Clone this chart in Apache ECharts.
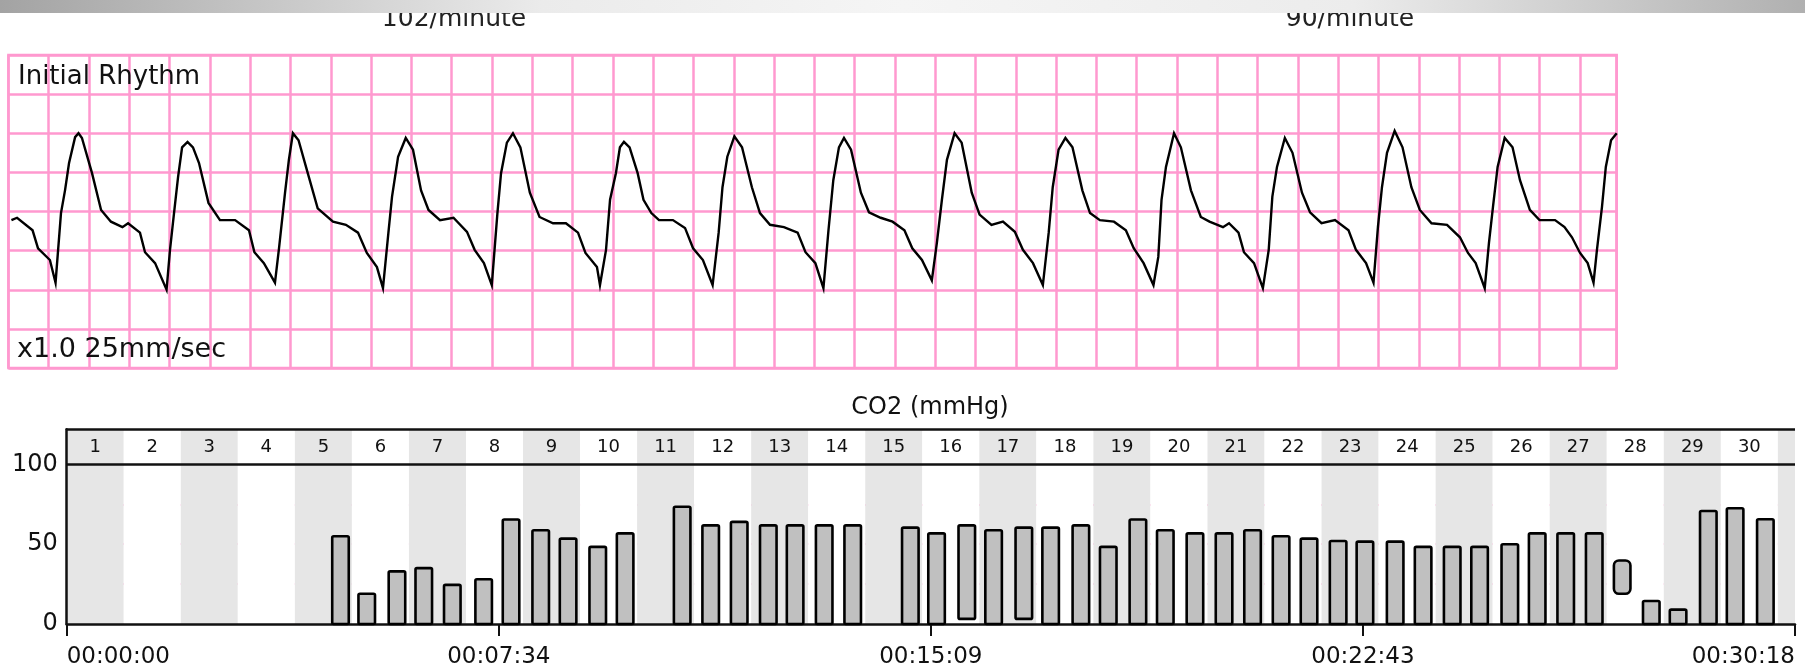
<!DOCTYPE html>
<html><head><meta charset="utf-8">
<script src="https://cdn.jsdelivr.net/npm/echarts@6/dist/echarts.min.js"></script>
<style>html,body{margin:0;padding:0;background:#fff}#c{width:1805px;height:672px}</style>
</head><body><div id="c"></div>
<script>
// ECG trace: time in seconds, amplitude in mV (25 mm/s, 10 mm/mV paper)
const ecgTime = [0.015,0.043,0.120,0.147,0.206,0.234,0.261,0.281,0.301,0.331,0.348,0.365,0.415,0.460,0.509,0.566,0.594,0.653,0.678,0.728,0.785,0.802,0.822,0.842,0.862,0.889,0.916,0.946,0.993,1.050,1.125,1.194,1.221,1.268,1.323,1.343,1.373,1.392,1.412,1.440,1.477,1.535,1.611,1.675,1.735,1.779,1.829,1.859,1.886,1.904,1.934,1.972,2.008,2.048,2.085,2.142,2.209,2.276,2.314,2.360,2.399,2.427,2.445,2.474,2.504,2.541,2.588,2.636,2.703,2.767,2.827,2.864,2.921,
2.936,2.966,2.986,3.015,3.035,3.055,3.083,3.123,3.152,3.191,3.229,3.298,3.358,3.398,3.447,3.495,3.525,3.544,3.568,3.603,3.641,3.690,3.730,3.780,3.849,3.917,3.956,4.005,4.045,4.070,4.094,4.122,4.147,4.182,4.231,4.271,4.329,4.388,4.447,4.486,4.534,4.583,4.608,4.633,4.658,4.696,4.731,4.781,4.820,4.879,4.936,4.995,5.035,5.085,5.134,5.163,5.183,5.212,5.246,5.281,5.330,5.368,5.417,5.487,5.546,5.585,5.634,5.683,5.707,5.723,5.745,5.785,5.819,5.869,5.918,
5.961,6.028,6.058,6.105,6.132,6.182,6.226,6.255,6.273,6.296,6.335,6.373,6.420,6.460,6.517,6.584,6.651,6.688,6.738,6.775,6.797,6.817,6.842,6.880,6.919,6.963,7.005,7.063,7.140,7.204,7.244,7.282,7.327,7.348,7.368,7.391,7.426,7.465,7.502,7.551,7.599,7.676,7.723,7.760,7.800,7.838,7.867,7.884,7.909,7.928,7.954,7.982];
const ecgMv = [-0.11,-0.08,-0.24,-0.47,-0.62,-0.91,-0.02,0.27,0.62,0.95,1.00,0.94,0.49,0.02,-0.13,-0.20,-0.15,-0.27,-0.52,-0.66,-1.00,-0.49,-0.02,0.44,0.82,0.89,0.82,0.62,0.11,-0.11,-0.11,-0.24,-0.52,-0.66,-0.91,-0.47,0.24,0.66,1.00,0.91,0.57,0.04,-0.13,-0.17,-0.27,-0.53,-0.71,-0.98,-0.27,0.19,0.70,0.94,0.79,0.27,0.02,-0.11,-0.08,-0.26,-0.49,-0.66,-0.94,-0.02,0.49,0.88,1.00,0.82,0.24,-0.07,-0.15,-0.15,-0.27,-0.53,-0.71,
-0.94,-0.49,0.15,0.49,0.82,0.89,0.82,0.49,0.15,-0.02,-0.11,-0.11,-0.21,-0.47,-0.62,-0.94,-0.27,0.31,0.70,0.96,0.82,0.31,-0.02,-0.17,-0.20,-0.27,-0.52,-0.66,-0.98,-0.24,0.40,0.82,0.94,0.79,0.24,-0.01,-0.08,-0.13,-0.24,-0.47,-0.62,-0.88,-0.40,0.15,0.66,1.00,0.88,0.24,-0.04,-0.17,-0.13,-0.26,-0.49,-0.66,-0.94,-0.27,0.31,0.79,0.94,0.82,0.27,-0.02,-0.11,-0.13,-0.24,-0.47,-0.66,-0.94,-0.58,0.15,0.57,1.00,0.82,0.27,-0.07,
-0.13,-0.20,-0.15,-0.27,-0.52,-0.66,-0.98,-0.49,0.19,0.57,0.94,0.75,0.24,-0.01,-0.15,-0.11,-0.24,-0.49,-0.66,-0.91,-0.20,0.31,0.75,1.03,0.82,0.31,0.02,-0.15,-0.17,-0.33,-0.53,-0.66,-0.98,-0.40,0.06,0.57,0.94,0.82,0.40,0.02,-0.11,-0.11,-0.20,-0.33,-0.53,-0.66,-0.91,-0.49,0.06,0.57,0.91,1.00];
const ecgDuration = 7.982;

// CO2 bars: time in minutes, bar top and bottom in mmHg
const co2Minutes = [4.80,5.26,5.79,6.26,6.76,7.31,7.79,8.31,8.79,9.31,9.79,10.79,11.29,11.79,12.30,12.77,13.28,13.78,14.79,15.25,15.78,16.25,16.78,17.25,17.78,18.26,18.78,19.26,19.78,20.29,20.79,21.29,21.78,22.29,22.76,23.29,23.78,24.29,24.77,25.30,25.78,26.28,26.78,27.27,27.78,28.25,28.78,29.25,29.78];
const co2High = [55,19,33,35,24.5,28,65.5,58.7,53.5,48.3,56.8,73.5,61.8,64,61.8,61.8,61.8,61.8,60.4,56.8,61.8,58.7,60.4,60.4,61.8,48.3,65.5,58.7,56.8,56.8,58.7,55,53.5,52,51.6,51.6,48.3,48.3,48.3,50,56.8,56.8,56.8,39.8,14.4,9,70.8,72.5,65.6];
const co2Low = [0,0,0,0,0,0,0,0,0,0,0,0,0,0,0,0,0,0,0,0,3.2,0,3.2,0,0,0,0,0,0,0,0,0,0,0,0,0,0,0,0,0,0,0,0,19,0,0,0,0,0];
const minuteLabels = ['1','2','3','4','5','6','7','8','9','10','11','12','13','14','15','16','17','18','19','20','21','22','23','24','25','26','27','28','29','30'];
const timeLabels = ['00:00:00','00:07:34','00:15:09','00:22:43','00:30:18'];
const totalMinutes = 30.3;
const timeStep = 7.575;
const rateLabels = ['102/minute','90/minute'];

const FONT = '"DejaVu Sans", sans-serif';
const PINK = '#ff99cf';
const headerBottom = 100, headerTop = 122, headerMid = 111;
const barHalf = 0.145;

const chart = echarts.init(document.getElementById('c'));
chart.setOption({
  animation: false,
  backgroundColor: '#ffffff',
  grid: [
    {left: 8.4, right: 188.3, top: 55, bottom: 304, show: true, borderColor: PINK, borderWidth: 2.5, backgroundColor: 'transparent'},
    {left: 66.7, right: 10, top: 429.3, bottom: 48}
  ],
  xAxis: [
    {gridIndex: 0, type: 'value', min: 0, max: ecgDuration, interval: 0.2,
     axisLine: {show: false}, axisTick: {show: false}, axisLabel: {show: false},
     splitLine: {show: true, lineStyle: {color: PINK, width: 2.5}}},
    {gridIndex: 1, type: 'value', min: 0, max: totalMinutes, interval: timeStep, position: 'bottom',
     axisLine: {show: true, onZero: false, lineStyle: {color: '#111', width: 2.5}},
     axisTick: {show: true, length: 12, lineStyle: {color: '#111', width: 2}},
     axisLabel: {show: true, margin: 22, fontFamily: FONT, fontSize: 23, color: '#111',
       alignMinLabel: 'left', alignMaxLabel: 'right',
       formatter: v => timeLabels[Math.round(v / timeStep)] || ''},
     splitLine: {show: false}},
    {gridIndex: 1, type: 'value', min: 0, max: totalMinutes, interval: 1, position: 'top',
     axisLine: {show: false}, axisTick: {show: false}, axisLabel: {show: false},
     splitLine: {show: false},
     splitArea: {show: true, areaStyle: {color: ['#e6e6e6', '#ffffff']}}}
  ],
  yAxis: [
    {gridIndex: 0, type: 'value', min: -2, max: 2, interval: 0.5,
     axisLine: {show: false}, axisTick: {show: false}, axisLabel: {show: false},
     splitLine: {show: true, lineStyle: {color: PINK, width: 2.5}}},
    {gridIndex: 1, type: 'value', min: 0, max: headerTop, interval: 25,
     axisLine: {show: true, lineStyle: {color: '#111', width: 2.5}},
     axisTick: {show: false},
     axisLabel: {show: true, margin: 9, fontFamily: FONT, fontSize: 24, color: '#111', showMaxLabel: false,
       formatter: v => (v % 50 === 0 ? String(v) : '')},
     splitLine: {show: true, lineStyle: {color: '#ffa3d4', width: 2}}}
  ],
  series: [
    {type: 'line', xAxisIndex: 0, yAxisIndex: 0, showSymbol: false, symbol: 'none',
     data: ecgTime.map((t, i) => [t, ecgMv[i]]),
     lineStyle: {color: '#000', width: 2.4, join: 'miter'}, z: 5},
    {type: 'custom', xAxisIndex: 1, yAxisIndex: 1, z: 4,
     data: co2Minutes.map((t, i) => [t, co2Low[i], co2High[i]]),
     encode: {x: 0, y: [1, 2]},
     renderItem: (params, api) => {
       const t = api.value(0), lo = api.value(1), hi = api.value(2);
       const a = api.coord([t - barHalf, hi]);
       const b = api.coord([t + barHalf, lo]);
       return {type: 'rect',
         shape: {x: a[0], y: a[1], width: b[0] - a[0], height: b[1] - a[1], r: lo > 10 ? 5 : 1.5},
         style: {fill: '#c0c0c0', stroke: '#000', lineWidth: 2.6}};
     },
     markLine: {silent: true, symbol: 'none', label: {show: false},
       lineStyle: {color: '#111', width: 2.5, type: 'solid'},
       data: [{yAxis: headerBottom}, {yAxis: headerTop}]}
    },
    {type: 'custom', xAxisIndex: 1, yAxisIndex: 1, z: 6,
     data: minuteLabels.map((s, i) => [i + 0.5, headerMid]),
     renderItem: (params, api) => {
       const p = api.coord([api.value(0), api.value(1)]);
       return {type: 'text', x: p[0], y: p[1],
         style: {text: minuteLabels[params.dataIndex], fill: '#111', font: '18px ' + FONT,
                 align: 'center', verticalAlign: 'middle'}};
     }}
  ],
  graphic: [
    {type: 'text', x: 18, y: 77, z: 50, style: {text: 'Initial Rhythm', font: '26px ' + FONT, fill: '#111', align: 'left', verticalAlign: 'middle'}},
    {type: 'text', x: 17, y: 350, z: 50, style: {text: 'x1.0 25mm/sec', font: '27px ' + FONT, fill: '#111', align: 'left', verticalAlign: 'middle'}},
    {type: 'text', x: 454, y: 19, z: 50, style: {text: rateLabels[0], font: '25px ' + FONT, fill: '#222', align: 'center', verticalAlign: 'middle'}},
    {type: 'text', x: 1350, y: 19, z: 50, style: {text: rateLabels[1], font: '25px ' + FONT, fill: '#222', align: 'center', verticalAlign: 'middle'}},
    {type: 'text', x: 930, y: 408, z: 50, style: {text: 'CO2 (mmHg)', font: '24px ' + FONT, fill: '#111', align: 'center', verticalAlign: 'middle'}},
    {type: 'rect', z: 100, shape: {x: 0, y: 0, width: 1805, height: 13},
     style: {fill: {type: 'linear', x: 0, y: 0, x2: 1, y2: 0,
       colorStops: [{offset: 0, color: '#a3a3a3'}, {offset: 0.3, color: '#ebebeb'}, {offset: 0.5, color: '#f5f5f5'}, {offset: 0.75, color: '#ececec'}, {offset: 1, color: '#b0b0b0'}]}}}
  ]
});
</script></body></html>
